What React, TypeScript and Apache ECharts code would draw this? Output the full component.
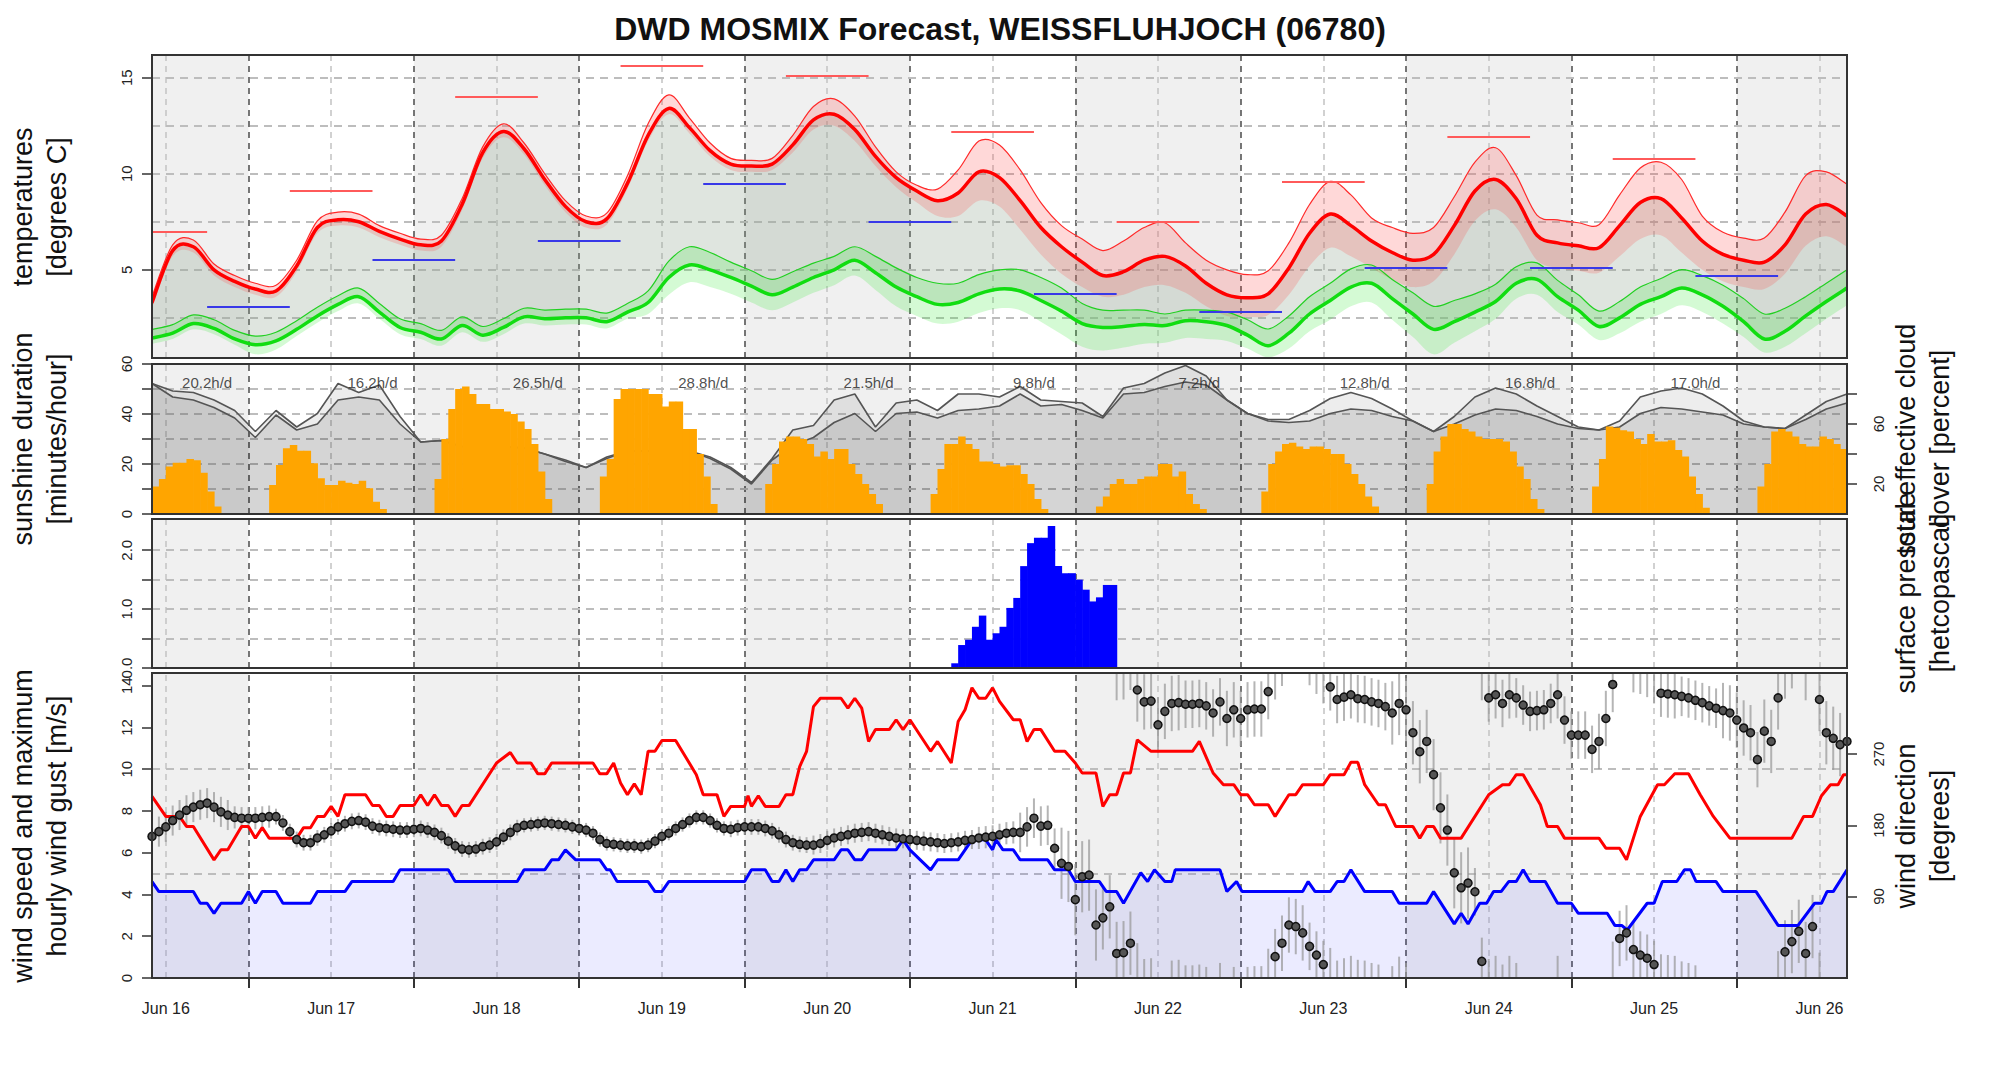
import React, { useEffect, useRef } from "react";
import * as echarts from "echarts";

const FONT = '"Liberation Sans", Arial, Helvetica, sans-serif';
const TITLE = "DWD MOSMIX Forecast, WEISSFLUHJOCH (06780)";
const HOURS_END = 246; // hours after Jun 16 10:00 UTC
const STEP = 3; // resolution (hours) of the temperature / cloud arrays

// ---------- x axis ----------
const dayLabels = ["Jun 16", "Jun 17", "Jun 18", "Jun 19", "Jun 20", "Jun 21", "Jun 22", "Jun 23", "Jun 24", "Jun 25", "Jun 26"];
const noonHours = [2, 26, 50, 74, 98, 122, 146, 170, 194, 218, 242];
const midnightHours = [14, 38, 62, 86, 110, 134, 158, 182, 206, 230];
const shadeRanges = [[0, 14], [38, 62], [86, 110], [134, 158], [182, 206], [230, 246]];

// ---------- temperatures (3-hourly) ----------
const temp = [3.3, 6.0, 6.2, 5.0, 4.4, 4.0, 3.9, 5.2, 7.2, 7.6, 7.5, 7.0, 6.6, 6.3, 6.5, 8.4, 11.1, 12.2, 11.3, 9.7, 8.3, 7.5, 7.65, 9.5, 12.0, 13.4, 12.4, 11.2, 10.5, 10.4, 10.5, 11.5, 12.8, 13.1, 12.3, 10.9, 9.8, 9.1, 8.6, 9.0, 10.1, 9.8, 8.6, 7.2, 6.2, 5.4, 4.7, 4.9, 5.5, 5.7, 5.2, 4.3, 3.7, 3.55, 3.75, 5.1, 6.9, 7.9, 7.3, 6.5, 5.9, 5.5, 5.8, 7.3, 9.1, 9.7, 8.7, 6.8, 6.4, 6.25, 6.15, 7.3, 8.5, 8.7, 7.7, 6.5, 5.8, 5.5, 5.4, 6.3, 7.9, 8.4, 7.8];
const tempSpreadUp = [0.3, 0.3, 0.35, 0.3, 0.3, 0.3, 0.3, 0.3, 0.35, 0.4, 0.4, 0.3, 0.3, 0.3, 0.3, 0.3, 0.3, 0.4, 0.3, 0.3, 0.3, 0.3, 0.3, 0.4, 0.6, 0.7, 0.5, 0.4, 0.3, 0.3, 0.3, 0.5, 0.7, 0.8, 0.7, 0.5, 0.3, 0.3, 0.6, 1.2, 1.6, 1.7, 1.6, 1.3, 1.1, 1.2, 1.3, 1.6, 1.7, 1.75, 1.2, 1.2, 1.3, 1.2, 1.2, 1.3, 1.5, 1.7, 1.6, 1.2, 1.3, 1.4, 1.4, 1.5, 1.5, 1.65, 1.2, 1.05, 1.2, 1.2, 1.2, 1.6, 1.8, 1.9, 2.0, 1.3, 1.15, 1.15, 1.25, 1.7, 2.0, 1.7, 1.65];
const tempSpreadDown = [0.3, 0.3, 0.3, 0.3, 0.3, 0.3, 0.3, 0.3, 0.3, 0.3, 0.3, 0.3, 0.3, 0.3, 0.3, 0.3, 0.3, 0.3, 0.3, 0.3, 0.3, 0.3, 0.3, 0.3, 0.3, 0.3, 0.3, 0.3, 0.3, 0.3, 0.3, 0.4, 0.5, 0.6, 0.6, 0.5, 0.5, 0.6, 0.8, 1.2, 1.5, 1.5, 1.5, 1.4, 1.4, 1.3, 1.1, 1.2, 1.4, 1.5, 1.4, 1.2, 1.1, 1.0, 1.1, 1.4, 1.7, 1.75, 1.6, 1.4, 1.4, 1.4, 1.4, 1.5, 1.55, 1.55, 1.5, 1.3, 1.3, 1.3, 1.3, 1.6, 1.9, 1.9, 1.8, 1.5, 1.4, 1.4, 1.4, 1.5, 1.65, 1.65, 1.6];
const dew = [1.45, 1.7, 2.2, 1.95, 1.4, 1.1, 1.3, 1.9, 2.6, 3.2, 3.6, 2.8, 2.0, 1.75, 1.4, 2.1, 1.6, 2.0, 2.55, 2.45, 2.5, 2.5, 2.3, 2.8, 3.3, 4.6, 5.25, 5.0, 4.6, 4.15, 3.7, 4.1, 4.6, 5.0, 5.5, 4.85, 4.1, 3.6, 3.2, 3.3, 3.75, 4.0, 3.9, 3.4, 2.85, 2.2, 2.0, 2.05, 2.15, 2.1, 2.35, 2.3, 2.1, 1.6, 1.05, 1.7, 2.7, 3.4, 4.1, 4.3, 3.5, 2.7, 1.9, 2.3, 2.8, 3.35, 4.3, 4.5, 3.6, 2.9, 2.05, 2.5, 3.2, 3.6, 4.05, 3.7, 3.1, 2.3, 1.4, 1.8, 2.6, 3.35, 4.05];
const dewSpreadUp = [0.45, 0.45, 0.45, 0.45, 0.45, 0.45, 0.45, 0.45, 0.45, 0.45, 0.45, 0.45, 0.45, 0.45, 0.45, 0.45, 0.45, 0.45, 0.45, 0.45, 0.45, 0.45, 0.45, 0.45, 0.6, 0.85, 0.95, 0.9, 0.8, 0.8, 0.8, 0.8, 0.75, 0.7, 0.7, 0.85, 1.0, 1.0, 1.1, 1.0, 1.0, 1.0, 1.1, 1.2, 1.2, 1.05, 0.9, 0.85, 0.75, 0.6, 0.55, 0.6, 0.7, 0.8, 0.87, 0.9, 0.9, 0.9, 0.95, 0.95, 1.0, 1.1, 1.2, 1.1, 0.95, 0.9, 0.86, 0.86, 0.85, 0.8, 0.8, 0.85, 0.9, 0.95, 0.96, 1.0, 1.1, 1.2, 1.3, 1.2, 1.0, 0.95, 0.95];
const dewSpreadDown = [0.3, 0.3, 0.3, 0.3, 0.3, 0.5, 0.45, 0.35, 0.35, 0.35, 0.35, 0.35, 0.35, 0.35, 0.35, 0.35, 0.35, 0.35, 0.35, 0.35, 0.35, 0.35, 0.35, 0.35, 0.6, 0.9, 0.9, 0.9, 0.85, 0.85, 0.8, 0.8, 0.8, 0.8, 0.8, 0.9, 1.0, 1.0, 1.0, 1.0, 1.0, 1.0, 1.0, 1.1, 1.2, 1.2, 1.2, 1.1, 1.0, 0.9, 0.9, 0.9, 0.8, 0.7, 0.6, 0.8, 0.9, 1.0, 1.0, 1.0, 1.1, 1.2, 1.3, 1.1, 1.0, 0.9, 0.8, 0.8, 0.8, 0.75, 0.7, 0.8, 0.9, 0.9, 0.9, 0.9, 0.9, 0.8, 0.7, 0.8, 0.9, 0.9, 0.9];
// daily max (06-18 UTC) and min (18-06 UTC)
const tMaxStart = [-4, 20, 44, 68, 92, 116, 140, 164, 188, 212];
const tMaxValue = [7.0, 9.1, 14.0, 15.6, 15.1, 12.2, 7.5, 9.6, 11.9, 10.8];
const tMinStart = [8, 32, 56, 80, 104, 128, 152, 176, 200, 224];
const tMinValue = [3.1, 5.5, 6.5, 9.5, 7.5, 3.75, 2.8, 5.1, 5.1, 4.7];

// ---------- clouds (3-hourly, percent) ----------
const cloudTotal = [87, 82, 81, 76, 69, 55, 69, 58, 67, 87, 81, 86, 65, 48, 49, 45, 45, 45, 44, 40, 36, 31, 38, 42, 42, 42, 42, 38, 31, 21, 37, 56, 59, 76, 80, 58, 74, 76, 69, 80, 80, 78, 85, 76, 75, 74, 65, 84, 87, 94, 99, 92, 76, 67, 63, 63, 69, 77, 81, 77, 70, 62, 55, 65, 78, 84, 80, 72, 65, 58, 56, 62, 78, 82, 84, 80, 72, 62, 58, 57, 66, 75, 80];
const cloudEffective = [87, 78, 76, 71, 64, 51, 66, 56, 60, 76, 78, 76, 60, 48, 49, 45, 45, 45, 44, 40, 35, 31, 37, 42, 42, 42, 42, 37, 30, 20, 36, 46, 51, 61, 67, 55, 67, 68, 64, 69, 70, 72, 80, 72, 73, 69, 64, 80, 81, 85, 88, 86, 76, 67, 62, 61, 62, 67, 70, 69, 65, 62, 55, 60, 66, 70, 69, 65, 60, 57, 56, 58, 67, 71, 70, 68, 66, 60, 58, 57, 63, 70, 74];

// ---------- sunshine (hourly, minutes/hour) ----------
const sunshine = [
  11, 14, 19, 20.5, 20.5, 22, 21.5, 16.5, 9, 3,
  0, 0, 0, 0, 0, 0, 0,
  11.6, 19.6, 26.3, 27.6, 25.3, 25.3, 20.3, 14.3, 11.6, 11.6, 13.3, 12.5, 12, 13.3, 10.3, 4.9, 2,
  0, 0, 0, 0, 0, 0, 0,
  14, 30, 42, 50, 51, 48, 44, 44, 42, 42, 41, 40, 37, 34, 28, 17, 6,
  0, 0, 0, 0, 0, 0, 0,
  15, 22, 46, 50, 50, 50, 50, 48, 48, 43, 45, 45, 34, 34, 24, 15, 4,
  0, 0, 0, 0, 0, 0, 0,
  12, 20, 29, 31, 31, 30, 28, 23, 25, 22, 26, 26, 20, 16, 12, 8, 4,
  0, 0, 0, 0, 0, 0, 0,
  8, 18, 28, 28, 31, 28, 26, 21, 21, 20, 19, 19.5, 19.5, 16, 12, 6, 2,
  0, 0, 0, 0, 0, 0, 0,
  3, 7, 12, 14, 12, 12, 14, 15, 15, 20, 20, 15, 17, 8, 4, 2,
  0, 0, 0, 0, 0, 0, 0, 0,
  9, 20, 25, 28, 28.5, 27, 26, 27, 27, 26, 24, 24, 20, 16, 12, 7, 3,
  0, 0, 0, 0, 0, 0, 0,
  12, 25, 31, 36, 36, 34, 33, 31, 30, 30, 30, 29, 25, 19, 14, 6, 2,
  0, 0, 0, 0, 0, 0, 0,
  11, 22, 35, 34.5, 33.5, 33, 30, 28, 32, 29, 29, 29.5, 25.6, 23, 15, 8, 2.5,
  0, 0, 0, 0, 0, 0, 0,
  11, 20, 33, 34, 33, 31, 28, 27, 27, 31, 30, 28, 26, 25,
];
const sunDayHours = [8, 32, 56, 80, 104, 128, 152, 176, 200, 224];
const sunDayText = ["20.2h/d", "16.2h/d", "26.5h/d", "28.8h/d", "21.5h/d", "9.8h/d", "7.2h/d", "12.8h/d", "16.8h/d", "17.0h/d"];

// ---------- precipitation (hourly, mm) ----------
const precipHours = [116, 117, 118, 119, 120, 121, 122, 123, 124, 125, 126, 127, 128, 129, 130, 131, 132, 133, 134, 135, 136, 137, 138, 139];
const precipMm = [0.08, 0.39, 0.48, 0.7, 0.89, 0.48, 0.59, 0.7, 1.02, 1.19, 1.73, 2.12, 2.21, 2.21, 2.41, 1.73, 1.61, 1.61, 1.5, 1.33, 1.13, 1.2, 1.41, 1.41];

// ---------- wind ----------
const gustPoints = [[0, 8.7], [2, 7.74], [4, 7.74], [5, 7.26], [6, 7.26], [9, 5.66], [10, 6.14], [11, 6.14], [13, 7.26], [14, 7.26], [15, 6.7], [16, 7.2], [17, 6.7], [21, 6.7], [22, 7.2], [23, 7.2], [24, 7.74], [25, 7.74], [26, 8.22], [27, 7.74], [28, 8.78], [31, 8.78], [32, 8.26], [33, 8.26], [34, 7.74], [35, 7.74], [36, 8.26], [38, 8.26], [39, 8.78], [40, 8.26], [41, 8.78], [42, 8.26], [43, 8.26], [44, 7.74], [45, 8.26], [46, 8.26], [50, 10.3], [52, 10.8], [53, 10.3], [55, 10.3], [56, 9.78], [57, 9.78], [58, 10.3], [64, 10.3], [65, 9.78], [66, 9.78], [67, 10.3], [68, 9.34], [69, 8.78], [70, 9.3], [71, 8.78], [72, 10.86], [73, 10.86], [74, 11.38], [76, 11.38], [79, 9.74], [80, 8.78], [82, 8.78], [83, 7.74], [84, 8.22], [86, 8.22], [86.5, 8.73], [87, 8.22], [88, 8.73], [89, 8.22], [91, 8.22], [92, 8.78], [93, 8.78], [94, 10.13], [95, 10.86], [96, 13.0], [97, 13.4], [100, 13.4], [101, 12.93], [102, 13.4], [103, 12.93], [104, 11.33], [105, 11.9], [107, 11.9], [108, 12.37], [109, 11.9], [110, 12.37], [113, 10.86], [114, 11.33], [116, 10.3], [117, 12.29], [118, 12.85], [119, 13.9], [120, 13.4], [121, 13.4], [122, 13.9], [123, 13.25], [125, 12.37], [126, 12.37], [127, 11.33], [128, 11.9], [129, 11.9], [131, 10.86], [132.5, 10.86], [134, 10.3], [135, 9.82], [137, 9.82], [138, 8.22], [139, 8.78], [140, 8.78], [141, 9.82], [142, 9.82], [143, 11.41], [145, 10.86], [151, 10.86], [152, 11.33], [154, 9.82], [155.5, 9.26], [157, 9.26], [158, 8.78], [159, 8.78], [160, 8.3], [162, 8.3], [163, 7.74], [165, 8.78], [166, 8.78], [167, 9.26], [170, 9.26], [171, 9.74], [173, 9.74], [174, 10.33], [175, 10.33], [176, 9.26], [178, 8.3], [179, 8.3], [180.5, 7.26], [183, 7.26], [184, 6.7], [185, 7.26], [186, 7.26], [187, 6.7], [190, 6.7], [194, 8.78], [196, 9.26], [197, 9.26], [198, 9.74], [199, 9.74], [201.5, 8.3], [202.5, 7.26], [204, 7.26], [205, 6.7], [210, 6.7], [211, 6.22], [213, 6.22], [214, 5.66], [216, 7.74], [218.5, 9.26], [219.5, 9.26], [221, 9.78], [223, 9.78], [224.7, 8.78], [226.6, 7.74], [229, 6.7], [238, 6.7], [239.7, 7.74], [241, 7.74], [242.3, 8.73], [243.6, 9.26], [244.7, 9.26], [245.5, 9.74], [246, 9.74]];
const windPoints = [[0, 4.62], [1, 4.14], [6, 4.14], [7, 3.58], [8, 3.58], [9, 3.1], [10, 3.58], [13, 3.58], [14, 4.14], [15, 3.58], [16, 4.14], [18, 4.14], [19, 3.58], [23, 3.58], [24, 4.14], [28, 4.14], [29, 4.62], [35, 4.62], [36, 5.18], [43, 5.18], [44, 4.62], [53, 4.62], [54, 5.18], [57, 5.18], [58, 5.66], [59, 5.66], [60, 6.14], [61.5, 5.66], [65, 5.66], [66, 5.18], [66.5, 5.18], [67.5, 4.62], [72, 4.62], [73, 4.14], [74, 4.14], [75, 4.62], [86, 4.62], [87, 5.18], [89, 5.18], [90, 4.62], [91, 4.62], [92, 5.18], [93, 4.62], [94, 5.18], [95, 5.18], [96, 5.66], [99, 5.66], [100, 6.14], [101, 6.14], [102, 5.66], [103, 5.66], [104, 6.14], [108, 6.14], [109, 6.62], [110, 6.14], [111.5, 5.66], [113, 5.18], [114, 5.66], [117, 5.66], [118, 6.14], [119, 6.62], [121, 6.62], [122, 6.14], [122.5, 6.62], [123.5, 6.14], [125, 6.14], [126, 5.66], [130, 5.66], [131, 5.18], [133, 5.18], [134, 4.62], [137.5, 4.62], [138.5, 4.14], [140, 4.14], [141, 3.58], [143.5, 5.04], [144.5, 4.62], [145.5, 5.18], [147, 4.62], [148, 4.62], [148.5, 5.18], [155, 5.18], [156, 4.14], [157.4, 4.62], [158.2, 4.14], [167, 4.14], [167.8, 4.62], [168.8, 4.14], [171, 4.14], [172, 4.62], [173, 4.62], [174, 5.18], [176, 4.14], [180, 4.14], [181, 3.58], [185, 3.58], [186, 4.14], [189, 2.59], [190, 3.1], [191, 2.59], [192.7, 3.58], [193.7, 3.58], [194.7, 4.14], [195.8, 4.14], [196.9, 4.62], [198, 4.62], [199, 5.18], [200, 4.62], [202.2, 4.62], [204, 3.58], [206, 3.58], [207, 3.1], [211.2, 3.1], [212.3, 2.52], [213.3, 2.52], [214.1, 2.3], [217, 3.58], [218, 3.58], [219.2, 4.62], [221.3, 4.62], [222.4, 5.18], [223.3, 5.18], [224.1, 4.62], [227, 4.62], [228, 4.14], [232.8, 4.14], [236, 2.52], [238.9, 2.52], [241.3, 3.58], [242.3, 3.58], [243.1, 4.14], [244, 4.14], [246, 5.18]];
// hourly wind direction (degrees)
const windDir = [
  166, 172, 178, 186, 193, 199, 203, 206, 208, 203,
  197, 193, 190, 189, 189, 189, 190, 191, 191, 183,
  172, 162, 158, 158, 164, 168, 173, 178, 182, 185,
  186, 184, 179, 177, 176, 175, 174, 174, 175, 176,
  174, 171, 167, 160, 154, 150, 149, 150, 153, 155,
  159, 165, 171, 177, 180, 181, 182, 183, 182, 181,
  180, 178, 176, 174, 170, 162, 157, 156, 155, 154,
  154, 153, 155, 160, 166, 170, 176, 181, 186, 190,
  190, 186, 180, 176, 175, 177, 178, 178, 178, 176,
  173, 168, 162, 158, 156, 155, 155, 157, 161, 164,
  166, 168, 170, 171, 172, 170, 168, 166, 164, 163,
  162, 161, 160, 159, 158, 157, 158, 159, 161, 162,
  164, 165, 166, 168, 170, 171, 171, 178, 189, 179,
  180, 151, 132, 128, 86, 115, 117, 54, 63, 77,
  18, 19, 31, 351, 336, 337, 307, 324, 334, 335,
  333, 333, 334, 331, 322, 336, 315, 326, 315, 326,
  327, 327, 349, 14, 31, 54, 52, 44, 27, 16,
  4, 355, 339, 342, 345, 340, 339, 336, 334, 330,
  322, 334, 326, 297, 273, 286, 244, 202, 174, 120,
  101, 107, 96, 8, 341, 345, 334, 345, 341, 332,
  324, 325, 326, 334, 345, 313, 294, 294, 294, 276,
  286, 315, 358, 37, 44, 23, 16, 12, 4, 347,
  346, 345, 343, 341, 338, 335, 331, 328, 325, 322,
  313, 303, 297, 263, 299, 286, 341, 20, 33, 46,
  18, 52, 339, 297, 290, 282, 286,
];
// 6-hourly spread of the wind direction (degrees)
const windDirSpread6h = [19, 19, 14, 10, 10, 10, 10, 10, 10, 9, 9, 9, 9, 9, 10, 10, 12, 12, 12, 12, 14, 25, 45, 40, 35, 30, 35, 35, 30, 30, 40, 45, 30, 25, 30, 35, 30, 25, 35, 40, 40, 35];

// ---------- axes ----------
const tempAxis = { min: 0.41, max: 16.18, ticks: [5, 10, 15], labels: [5, 10, 15], grid: [2.5, 5, 7.5, 10, 12.5, 15] };
const sunAxis = { min: 0, max: 60, ticks: [0, 10, 20, 30, 40, 50, 60], labels: [0, 20, 40, 60], grid: [10, 20, 30, 40, 50] };
const cloudAxis = { min: 0, max: 100, ticks: [20, 40, 60, 80], labels: [20, 60] };
const precipAxis = { min: 0, max: 2.53, ticks: [0, 0.5, 1, 1.5, 2], labels: [0, 1, 2], grid: [0.5, 1, 1.5, 2] };
const windAxis = { min: 0, max: 14.61, ticks: [0, 2, 4, 6, 8, 10, 12, 14], labels: [0, 2, 4, 6, 8, 10, 12, 14], grid: [5, 10] };
const dirAxis = { min: -13, max: 372.5, ticks: [90, 180, 270], labels: [90, 180, 270] };

const at3 = (arr: number[]) => arr.map((v, i) => [i * STEP, v]);

// Catmull-Rom curve through pixel points, as cubic bezier path commands (drawing only)
const curveCmds = (pts: number[][]) => {
  let s = "";
  for (let i = 0; i < pts.length - 1; i++) {
    const p0 = pts[i - 1] || pts[i];
    const p1 = pts[i];
    const p2 = pts[i + 1];
    const p3 = pts[i + 2] || p2;
    const c1x = p1[0] + (p2[0] - p0[0]) / 6;
    const c1y = p1[1] + (p2[1] - p0[1]) / 6;
    const c2x = p2[0] - (p3[0] - p1[0]) / 6;
    const c2y = p2[1] - (p3[1] - p1[1]) / 6;
    s += `C${c1x.toFixed(2)},${c1y.toFixed(2)} ${c2x.toFixed(2)},${c2y.toFixed(2)} ${p2[0].toFixed(2)},${p2[1].toFixed(2)}`;
  }
  return s;
};

export default function App() {
  const ref = useRef<HTMLDivElement>(null);

  useEffect(() => {
    document.body.style.margin = "0";
    const chart = echarts.init(ref.current as HTMLDivElement, null, { renderer: "svg" });

    const tLow = temp.map((v, i) => v - tempSpreadDown[i]);
    const tHigh = temp.map((v, i) => v + tempSpreadUp[i]);
    const dLow = dew.map((v, i) => v - dewSpreadDown[i]);
    const dHigh = dew.map((v, i) => v + dewSpreadUp[i]);

    const vLines = [
      ...midnightHours.map((h) => ({ xAxis: h, lineStyle: { color: "#555", type: [6, 5], width: 1.6 } })),
      ...noonHours.map((h) => ({ xAxis: h, lineStyle: { color: "#c6c6c6", type: [6, 5], width: 1.6 } })),
    ];

    const helper = (idx: number, yIdx: number, y0: number, ys: number[]) => ({
      type: "line",
      xAxisIndex: idx,
      yAxisIndex: yIdx,
      data: [[0, y0]],
      symbol: "none",
      lineStyle: { opacity: 0 },
      silent: true,
      markArea: {
        silent: true,
        z: 1,
        itemStyle: { color: "#f0f0f0" },
        data: shadeRanges.map(([a, b]) => [{ xAxis: a }, { xAxis: b }]),
      },
      markLine: {
        silent: true,
        z: 1.5,
        symbol: ["none", "none"],
        label: { show: false },
        data: [
          ...vLines,
          ...ys.map((y) => ({ yAxis: y, lineStyle: { color: "#bdbdbd", type: [8, 6], width: 2 } })),
        ],
      },
    });

    // filled band between two 3-hourly curves (one path, through the axis scales)
    const band = (lo: number[], hi: number[], color: string) => ({
      type: "custom",
      xAxisIndex: 0,
      yAxisIndex: 0,
      silent: true,
      z: 2,
      clip: true,
      data: [[0, lo[0]]],
      renderItem: (params: any, api: any) => {
        const top = hi.map((v, i) => api.coord([i * STEP, v]));
        const bottom = lo.map((v, i) => api.coord([i * STEP, v])).reverse();
        const d =
          `M${top[0][0]},${top[0][1]}` + curveCmds(top) +
          `L${bottom[0][0]},${bottom[0][1]}` + curveCmds(bottom) + "Z";
        return { type: "path", shape: { pathData: d }, style: { fill: color, stroke: "none" } };
      },
    });

    // smooth curve through a 3-hourly series
    const curve = (vals: number[], color: string, width: number) => ({
      type: "custom",
      xAxisIndex: 0,
      yAxisIndex: 0,
      silent: true,
      z: 3,
      clip: true,
      data: [[0, vals[0]]],
      renderItem: (params: any, api: any) => {
        const pts = vals.map((v, i) => api.coord([i * STEP, v]));
        const d = `M${pts[0][0]},${pts[0][1]}` + curveCmds(pts);
        return {
          type: "path",
          shape: { pathData: d },
          style: { fill: "none", stroke: color, lineWidth: width, lineJoin: "round", lineCap: "round" },
        };
      },
    });

    const rectBars = (color: string) => (params: any, api: any) => {
      const h = api.value(0);
      const v = api.value(1);
      if (!v) return null;
      const p0 = api.coord([h, v]);
      const p1 = api.coord([h + 1, 0]);
      return {
        type: "rect",
        shape: { x: p0[0], y: p0[1], width: p1[0] - p0[0] + 0.6, height: p1[1] - p0[1] },
        style: { fill: color },
      };
    };

    const yAx = (gridIndex: number, a: any, pos: string, fmt?: any) => ({
      type: "value",
      gridIndex,
      min: a.min,
      max: a.max,
      position: pos,
      axisLine: { show: false },
      splitLine: { show: false },
      axisTick: { show: true, customValues: a.ticks, length: 10, lineStyle: { color: "#333", width: 1.5 } },
      axisLabel: {
        customValues: a.labels,
        rotate: 90,
        fontSize: 15,
        color: "#222",
        fontFamily: FONT,
        margin: pos === "left" ? 18 : 24,
        formatter: fmt,
      },
    });

    const titleText = (x: number, y: number, text: string) => ({
      type: "text",
      x,
      y,
      rotation: Math.PI / 2,
      silent: true,
      style: {
        text,
        fill: "#111",
        font: `27px ${FONT}`,
        fontSize: 27,
        fontFamily: FONT,
        align: "center",
        verticalAlign: "middle",
        textAlign: "center",
        textVerticalAlign: "middle",
        lineHeight: 34,
      },
    });

    const option: any = {
      animation: false,
      backgroundColor: "#ffffff",
      title: {
        text: TITLE,
        left: "center",
        top: 8,
        textStyle: { fontSize: 32, fontWeight: "bold", fontFamily: FONT, color: "#111" },
      },
      grid: [
        { top: 55, height: 303 },
        { top: 364, height: 150 },
        { top: 519, height: 149 },
        { top: 673, height: 305 },
      ].map((g) => ({
        left: 152,
        width: 1695,
        ...g,
        show: true,
        borderColor: "#333",
        borderWidth: 2,
        backgroundColor: "transparent",
        z: 10,
      })),
      xAxis: [0, 1, 2, 3].map((i) => ({
        type: "value",
        gridIndex: i,
        min: 0,
        max: HOURS_END,
        show: i === 3,
        axisLine: { show: false },
        splitLine: { show: false },
        axisTick: { show: true, customValues: midnightHours, length: 10, lineStyle: { color: "#333", width: 2 } },
        axisLabel: {
          customValues: noonHours,
          formatter: (v: number) => {
            const k = noonHours.indexOf(v);
            return k >= 0 ? dayLabels[k] : "";
          },
          fontSize: 16,
          color: "#222",
          fontFamily: FONT,
          margin: 22,
        },
      })),
      yAxis: [
        yAx(0, tempAxis, "left"),
        yAx(1, sunAxis, "left"),
        yAx(1, cloudAxis, "right"),
        yAx(2, precipAxis, "left", (v: number) => v.toFixed(1)),
        yAx(3, windAxis, "left"),
        yAx(3, dirAxis, "right"),
      ],
      graphic: [
        titleText(40, 207, "temperatures\n[degrees C]"),
        titleText(40, 439, "sunshine duration\n[minutes/hour]"),
        titleText(40, 826, "wind speed and maximum\nhourly wind gust [m/s]"),
        titleText(1923, 439, "total effective cloud\ncover [percent]"),
        titleText(1923, 593, "surface pressure\n[hetcopascal]"),
        titleText(1923, 826, "wind direction\n[degrees]"),
      ],
      series: [
        // ---------------- panel 1: temperatures ----------------
        helper(0, 0, tempAxis.min, tempAxis.grid),
        band(dew, temp, "rgba(140,160,140,0.28)"),
        band(tLow, tHigh, "rgba(255,60,60,0.2)"),
        band(dLow, dHigh, "rgba(60,230,60,0.22)"),
        curve(tHigh, "#ff2a2a", 1.2),
        curve(dHigh, "#22d022", 1.2),
        curve(temp, "#ff0000", 3.5),
        curve(dew, "#11dd11", 3.5),
        {
          type: "lines", coordinateSystem: "cartesian2d", xAxisIndex: 0, yAxisIndex: 0, silent: true, z: 4,
          lineStyle: { color: "#ff5a5a", width: 2.2, opacity: 1 },
          data: tMaxStart.map((s, i) => ({ coords: [[Math.max(0, s), tMaxValue[i]], [s + 12, tMaxValue[i]]] })),
        },
        {
          type: "lines", coordinateSystem: "cartesian2d", xAxisIndex: 0, yAxisIndex: 0, silent: true, z: 4,
          lineStyle: { color: "#3838e8", width: 2.2, opacity: 1 },
          data: tMinStart.map((s, i) => ({ coords: [[s, tMinValue[i]], [s + 12, tMinValue[i]]] })),
        },

        // ---------------- panel 2: sunshine & clouds ----------------
        helper(1, 1, 0, sunAxis.grid),
        {
          type: "line", xAxisIndex: 1, yAxisIndex: 2, data: at3(cloudTotal), symbol: "none", silent: true, z: 2,
          lineStyle: { color: "#555", width: 1.6 },
          areaStyle: { color: "rgba(0,0,0,0.10)" },
        },
        {
          type: "line", xAxisIndex: 1, yAxisIndex: 2, data: at3(cloudEffective), symbol: "none", silent: true, z: 2,
          lineStyle: { color: "#555", width: 1.6 },
          areaStyle: { color: "rgba(0,0,0,0.14)" },
        },
        {
          type: "custom", xAxisIndex: 1, yAxisIndex: 1, silent: true, z: 3, clip: true,
          data: sunshine.map((v, h) => [h, v]),
          renderItem: rectBars("#ffa500"),
        },
        {
          type: "scatter", xAxisIndex: 1, yAxisIndex: 1, silent: true, z: 5, symbolSize: 0,
          data: sunDayHours.map((h, i) => ({ value: [h, 52.8], name: sunDayText[i] })),
          label: { show: true, position: "inside", formatter: "{b}", fontSize: 15, color: "#222", fontFamily: FONT },
        },

        // ---------------- panel 3: precipitation ----------------
        helper(2, 3, 0, precipAxis.grid),
        {
          type: "custom", xAxisIndex: 2, yAxisIndex: 3, silent: true, z: 3, clip: true,
          data: precipHours.map((h, i) => [h, precipMm[i]]),
          renderItem: rectBars("#0000ff"),
        },

        // ---------------- panel 4: wind ----------------
        helper(3, 4, 0, windAxis.grid),
        {
          type: "line", xAxisIndex: 3, yAxisIndex: 4, data: windPoints, symbol: "none", silent: true, z: 2,
          lineStyle: { opacity: 0, width: 0 },
          areaStyle: { color: "rgba(30,30,255,0.13)" },
        },
        {
          type: "custom", xAxisIndex: 3, yAxisIndex: 5, silent: true, z: 2, clip: true,
          data: windDir.map((d, h) => [h, d, windDirSpread6h[Math.floor(h / 6)]]),
          renderItem: (params: any, api: any) => {
            const h = api.value(0);
            const d = api.value(1);
            const s = api.value(2);
            const ranges: number[][] = [[d - s, d + s]];
            if (d + s > 360) ranges.push([d - s - 360, d + s - 360]);
            if (d - s < 0) ranges.push([d - s + 360, d + s + 360]);
            return {
              type: "group",
              children: ranges.map(([a, b]) => {
                const p0 = api.coord([h, a]);
                const p1 = api.coord([h, b]);
                return {
                  type: "line",
                  shape: { x1: p0[0], y1: p0[1], x2: p1[0], y2: p1[1] },
                  style: { stroke: "rgba(150,150,150,0.7)", lineWidth: 2 },
                };
              }),
            };
          },
        },
        {
          type: "line", xAxisIndex: 3, yAxisIndex: 4, data: windPoints, symbol: "none", silent: true, z: 3,
          lineStyle: { color: "#0000ff", width: 3 },
        },
        {
          type: "line", xAxisIndex: 3, yAxisIndex: 4, data: gustPoints, symbol: "none", silent: true, z: 3,
          lineStyle: { color: "#ff0000", width: 3 },
        },
        {
          type: "scatter", xAxisIndex: 3, yAxisIndex: 5, silent: true, z: 4, symbol: "circle", symbolSize: 8,
          data: windDir.map((d, h) => [h, d]),
          itemStyle: { color: "#555", borderColor: "#111", borderWidth: 1.5, opacity: 1 },
        },
      ],
    };

    chart.setOption(option);
    return () => chart.dispose();
  }, []);

  return <div ref={ref} style={{ width: 2000, height: 1067 }} />;
}
